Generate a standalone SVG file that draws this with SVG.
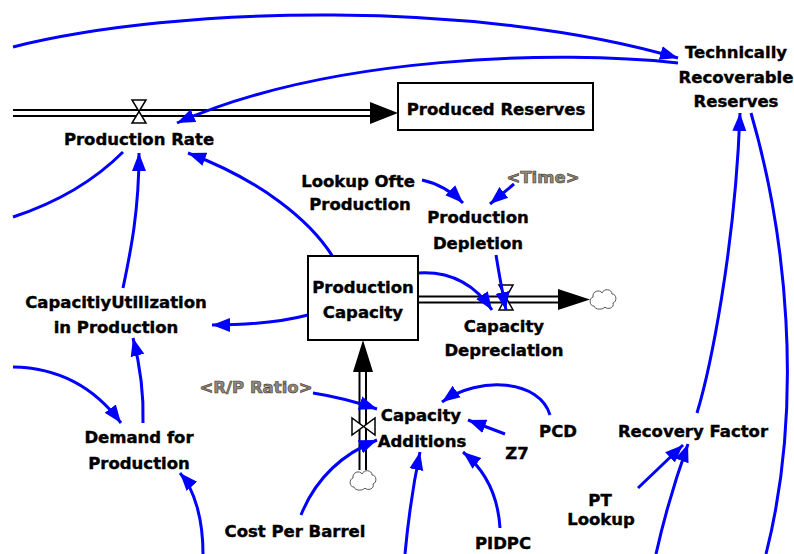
<svg xmlns="http://www.w3.org/2000/svg" width="794" height="554" viewBox="0 0 794 554">
<style>
.t{font-family:"DejaVu Sans","Liberation Sans",sans-serif;font-weight:bold;font-size:16.5px;text-anchor:middle;fill:#000;stroke:#000;stroke-width:0.4}
.s{font-family:"DejaVu Sans","Liberation Sans",sans-serif;font-weight:bold;font-size:16.5px;text-anchor:middle;fill:#8a8a8a;stroke:#4a3418;stroke-width:0.6}
.c{fill:none;stroke:#0000ff;stroke-width:3;marker-end:url(#ah)}
.cn{fill:none;stroke:#0000ff;stroke-width:3}
.p{fill:none;stroke:#000;stroke-width:2}
.v{fill:#fff;stroke:#000;stroke-width:1.5}
.box{fill:#fff;stroke:#000;stroke-width:2}
.fh{fill:#000}
.cl{fill:#fff;stroke:#555;stroke-width:1}
</style>
<defs>
<marker id="ah" markerUnits="userSpaceOnUse" markerWidth="20" markerHeight="16" refX="18" refY="7" orient="auto" viewBox="0 0 20 14">
<path d="M0,0 L18,7 L0,14 Z" fill="#0000ff"/>
</marker>
<symbol id="cloud" overflow="visible">
<path class="cl" d="M-9,7 C-14,7 -14,-1 -10,-2 C-11,-8 -3,-10 -1,-6 C1,-11 9,-10 9,-5 C14,-5 14,3 10,4 C12,9 4,11 2,8 C0,11 -8,11 -9,7 Z"/>
</symbol>
</defs>
<rect width="794" height="554" fill="#fff"/>

<g id="flows">
<g id="flow-production-rate">
<line class="p" x1="13" y1="110" x2="372" y2="110"/>
<line class="p" x1="13" y1="116" x2="372" y2="116"/>
<path class="fh" d="M370,102 L398,113 L370,124 Z"/>
<path class="v" d="M132,100 L146,100 L132,123 L146,123 Z"/>
</g>
<g id="flow-capacity-depreciation">
<line class="p" x1="418" y1="296.5" x2="560" y2="296.5"/>
<line class="p" x1="418" y1="302.5" x2="560" y2="302.5"/>
<path class="fh" d="M558,289 L590,299.5 L558,310 Z"/>
<use href="#cloud" x="603" y="299"/>
<path class="v" d="M499,285 L513,285 L499,310 L513,310 Z"/>
</g>
<g id="flow-capacity-additions">
<line class="p" x1="359.5" y1="372" x2="359.5" y2="470"/>
<line class="p" x1="366" y1="372" x2="366" y2="470"/>
<path class="fh" d="M353,372 L363,340 L373,372 Z"/>
<use href="#cloud" x="363" y="480"/>
<path class="v" d="M352,418 L352,435 L375,418 L375,435 Z"/>
</g>
</g>

<g id="connectors">
<path class="c" d="M13,47 C180,5 480,0 678,58"/>
<path class="c" d="M678,63 C560,50 330,55 177,123"/>
<path class="cn" d="M123,152 Q80,195 13,217"/>
<path class="c" d="M123,288 C131,250 139,210 139,153"/>
<path class="c" d="M333,257 C310,220 260,180 188,153"/>
<path class="c" d="M308,315 Q270,325 212,325"/>
<path class="c" d="M143,423 C144,390 140,365 133,338"/>
<path class="c" d="M13,367 Q80,368 121,423"/>
<path class="c" d="M203,554 C203,520 195,490 180,473"/>
<path class="c" d="M422,180 Q445,185 463,203"/>
<path class="c" d="M514,184 L490,204"/>
<path class="c" d="M496,255 Q500,280 506,310"/>
<path class="c" d="M418,273 Q465,270 492,310"/>
<path class="c" d="M313,393 Q345,398 377,409"/>
<path class="c" d="M301,515 C315,480 340,455 377,440"/>
<path class="c" d="M405,554 Q410,500 420,452"/>
<path class="c" d="M500,528 C498,495 485,470 463,452"/>
<path class="c" d="M505,434 L468,420"/>
<path class="c" d="M550,415 C540,380 480,375 442,402"/>
<path class="c" d="M697,413 C710,370 735,250 740,113"/>
<path class="cn" d="M751,113 C785,230 805,400 766,554"/>
<path class="c" d="M638,488 L683,445"/>
<path class="c" d="M656,554 Q668,500 688,444"/>
</g>

<g id="node-produced-reserves">
<rect class="box" x="398" y="83" width="195" height="47"/>
<text class="t" x="496" y="115">Produced Reserves</text>
</g>
<g id="node-production-capacity">
<rect class="box" x="308" y="256" width="110" height="84"/>
<text class="t" x="363" y="293">Production</text>
<text class="t" x="363" y="318">Capacity</text>
</g>
<g id="node-production-rate"><text class="t" x="139" y="145">Production Rate</text></g>
<g id="node-trr">
<text class="t" x="736" y="58">Technically</text>
<text class="t" x="736" y="83">Recoverable</text>
<text class="t" x="736" y="107">Reserves</text>
</g>
<g id="node-lookup-ofte">
<text class="t" x="358" y="187">Lookup Ofte</text>
<text class="t" x="360" y="210">Production</text>
</g>
<g id="node-time"><text class="s" x="543" y="183">&lt;Time&gt;</text></g>
<g id="node-production-depletion">
<text class="t" x="478" y="223">Production</text>
<text class="t" x="478" y="249">Depletion</text>
</g>
<g id="node-capacity-utilization">
<text class="t" x="116" y="308">CapacitiyUtilization</text>
<text class="t" x="116" y="333">in Production</text>
</g>
<g id="node-capacity-depreciation">
<text class="t" x="504" y="332">Capacity</text>
<text class="t" x="504" y="356">Depreciation</text>
</g>
<g id="node-demand">
<text class="t" x="139" y="443">Demand for</text>
<text class="t" x="139" y="469">Production</text>
</g>
<g id="node-rp-ratio"><text class="s" x="256" y="393">&lt;R/P Ratio&gt;</text></g>
<g id="node-capacity-additions">
<text class="t" x="421" y="421">Capacity</text>
<text class="t" x="422" y="447">Additions</text>
</g>
<g id="node-cost-per-barrel"><text class="t" x="295" y="537">Cost Per Barrel</text></g>
<g id="node-pcd"><text class="t" x="558" y="437">PCD</text></g>
<g id="node-z7"><text class="t" x="517" y="459">Z7</text></g>
<g id="node-pidpc"><text class="t" x="503" y="549">PIDPC</text></g>
<g id="node-recovery-factor"><text class="t" x="693" y="437">Recovery Factor</text></g>
<g id="node-pt-lookup">
<text class="t" x="600" y="506">PT</text>
<text class="t" x="601" y="525">Lookup</text>
</g>
</svg>
